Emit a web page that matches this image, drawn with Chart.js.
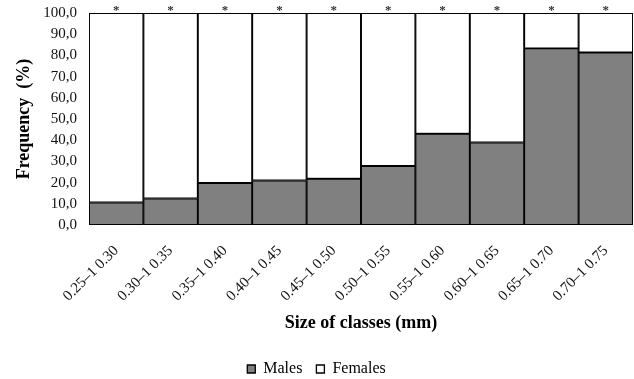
<!DOCTYPE html>
<html>
<head>
<meta charset="utf-8">
<script src="https://cdn.jsdelivr.net/npm/chart.js@4/dist/chart.umd.min.js"></script>
<style>
  html, body { margin: 0; padding: 0; background: #fff; }
  #wrap { width: 634px; height: 379px; }
</style>
</head>
<body>
<div id="wrap"><canvas id="bar-chart"></canvas></div>
<script>
// size classes (mm) and the share of each sex per class
const classes = [
  '0.25–1 0.30', '0.30–1 0.35', '0.35–1 0.40', '0.40–1 0.45', '0.45–1 0.50',
  '0.50–1 0.55', '0.55–1 0.60', '0.60–1 0.65', '0.65–1 0.70', '0.70–1 0.75',
];
const males = [10.6, 12.5, 19.8, 21.0, 21.8, 27.8, 43.0, 38.9, 83.3, 81.4];
const females = [89.4, 87.5, 80.2, 79.0, 78.2, 72.2, 57.0, 61.1, 16.7, 18.6];
const marks = ['*', '*', '*', '*', '*', '*', '*', '*', '*', '*'];

const serif = '"Liberation Serif", "Times New Roman", serif';

// draws the significance star above each stacked column
const starPlugin = {
  id: 'stars',
  afterDatasetsDraw(chart) {
    const ctx = chart.ctx;
    const meta = chart.getDatasetMeta(1);
    ctx.save();
    ctx.fillStyle = '#333';
    ctx.font = 'bold 13px ' + serif;
    ctx.textAlign = 'center';
    ctx.textBaseline = 'alphabetic';
    meta.data.forEach(function (bar, i) {
      ctx.fillText(marks[i], bar.x, bar.y + 1);
    });
    ctx.restore();
  },
};

const ctx = document.getElementById('bar-chart').getContext('2d');
new Chart(ctx, {
  type: 'bar',
  data: {
    labels: classes,
    datasets: [
      {
        label: 'Males',
        data: males,
        backgroundColor: '#808080',
        borderColor: '#000',
        borderWidth: 1.3,
        borderSkipped: false,
      },
      {
        label: 'Females',
        data: females,
        backgroundColor: '#fff',
        borderColor: '#000',
        borderWidth: 1.3,
        borderSkipped: false,
      },
    ],
  },
  options: {
    responsive: true,
    maintainAspectRatio: false,
    animation: false,
    layout: { padding: { top: 11, right: 1, left: 0, bottom: -8 } },
    datasets: { bar: { barPercentage: 1, categoryPercentage: 1 } },
    plugins: {
      tooltip: { enabled: false },
      legend: {
        position: 'bottom',
        labels: {
          color: '#000',
          boxWidth: 8,
          boxHeight: 8,
          padding: 14,
          font: { family: serif, size: 16 },
        },
      },
    },
    scales: {
      x: {
        stacked: true,
        grid: { display: false },
        border: { display: false },
        ticks: {
          color: '#111',
          maxRotation: 45,
          minRotation: 45,
          padding: 9,
          font: { family: serif, size: 15 },
        },
        title: {
          display: true,
          text: 'Size of classes (mm)',
          color: '#000',
          font: { family: serif, size: 18, weight: 'bold' },
          padding: { top: 4, bottom: 13 },
        },
        afterFit: function (scale) { scale.height = 122; },
      },
      y: {
        stacked: true,
        min: 0,
        max: 100,
        grid: { display: false },
        border: { display: false },
        ticks: {
          stepSize: 10,
          color: '#111',
          padding: 4,
          font: { family: serif, size: 15 },
          callback: function (v) { return v.toFixed(1).replace('.', ','); },
        },
        title: {
          display: true,
          text: 'Frequency  (%)',
          color: '#000',
          font: { family: serif, size: 18, weight: 'bold' },
          padding: { top: 14, bottom: 4 },
        },
        afterFit: function (scale) { scale.width = 89; },
      },
    },
  },
  plugins: [starPlugin],
});
</script>
</body>
</html>
